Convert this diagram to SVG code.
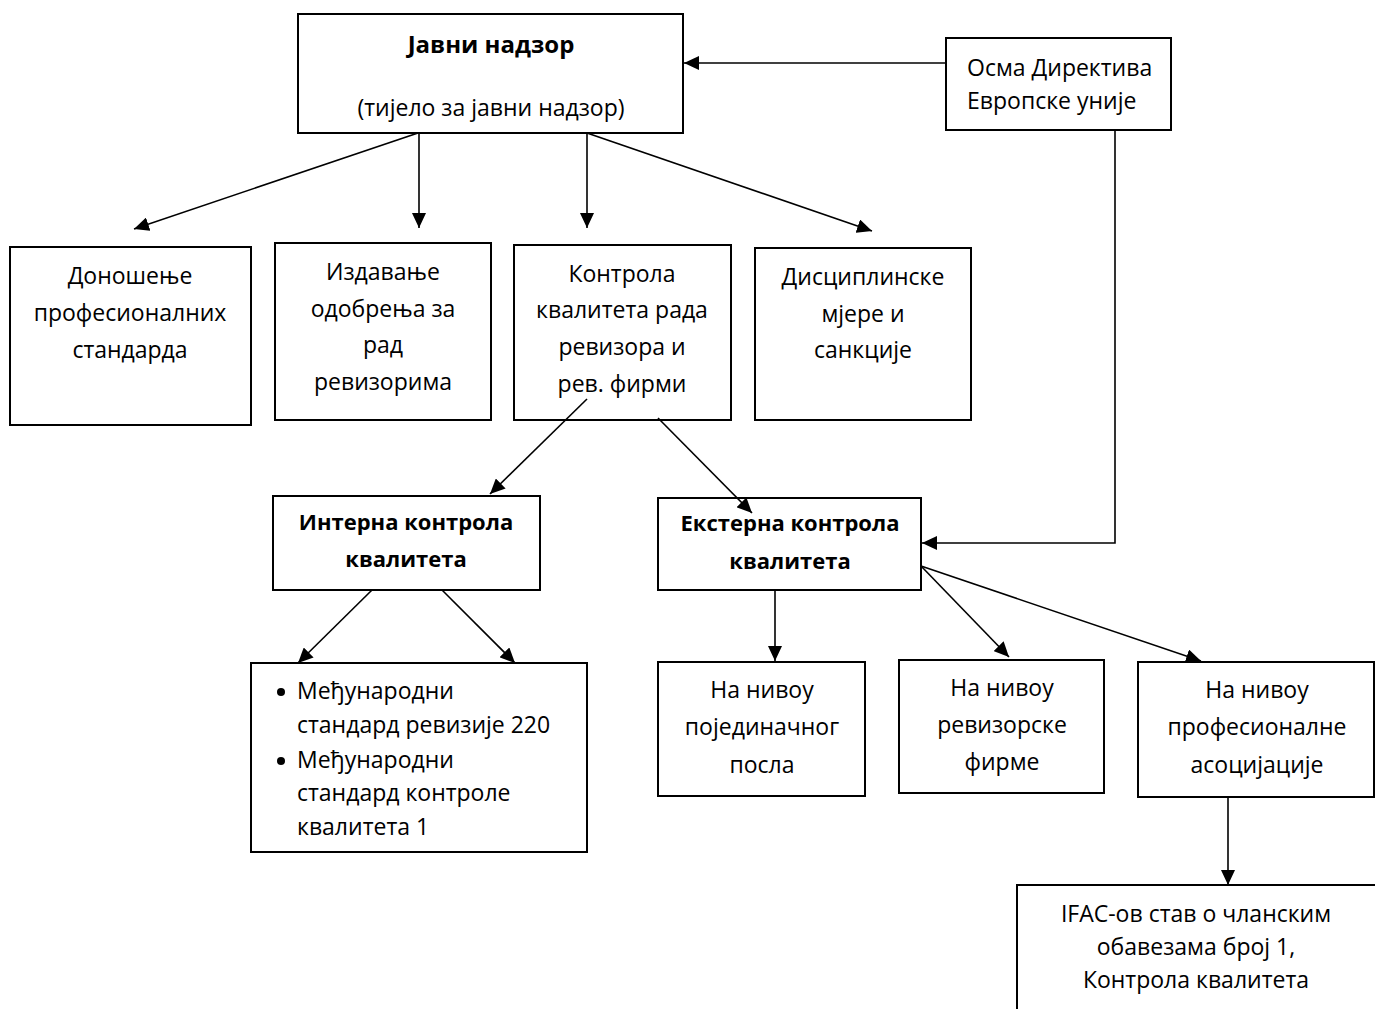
<svg xmlns="http://www.w3.org/2000/svg" width="1375" height="1009" viewBox="0 0 1375 1009">
<defs>
<marker id="ah" markerUnits="userSpaceOnUse" markerWidth="16" markerHeight="14" refX="15" refY="7" orient="auto">
<path d="M0,0 L15,7 L0,14 Z" fill="#000"/>
</marker>
<style>
.box{fill:#fff;stroke:#000;stroke-width:2}
.t{font-family:"Open Sans","Noto Sans","DejaVu Sans",sans-serif;font-size:23px;fill:#000}
.c{text-anchor:middle}
.b{font-weight:bold;font-size:22px}
.bt{font-weight:bold;font-size:24px}
.ln{stroke:#000;stroke-width:1.6;fill:none}
.ar{marker-end:url(#ah)}
</style>
</defs>
<rect width="1375" height="1009" fill="#fff"/>
<g id="javni-nadzor">
<rect class="box" x="298" y="14" width="385" height="119"/>
<text class="t c bt" x="491" y="53">Јавни надзор</text>
<text class="t c" x="491" y="116">(тијело за јавни надзор)</text>
</g>
<g id="osma-direktiva">
<rect class="box" x="946" y="38" width="225" height="92"/>
<text class="t" x="967" y="76">Осма Директива</text>
<text class="t" x="967" y="109">Европске уније</text>
</g>
<g id="donosenje">
<rect class="box" x="10" y="247" width="241" height="178"/>
<text class="t c" x="130" y="284">Доношење</text>
<text class="t c" x="130" y="321">професионалних</text>
<text class="t c" x="130" y="358">стандарда</text>
</g>
<g id="izdavanje">
<rect class="box" x="275" y="243" width="216" height="177"/>
<text class="t c" x="383" y="280">Издавање</text>
<text class="t c" x="383" y="317">одобрења за</text>
<text class="t c" x="383" y="353">рад</text>
<text class="t c" x="383" y="390">ревизорима</text>
</g>
<g id="kontrola">
<rect class="box" x="514" y="245" width="217" height="175"/>
<text class="t c" x="622" y="282">Контрола</text>
<text class="t c" x="622" y="318">квалитета рада</text>
<text class="t c" x="622" y="355">ревизора и</text>
<text class="t c" x="622" y="392">рев. фирми</text>
</g>
<g id="disciplinske">
<rect class="box" x="755" y="248" width="216" height="172"/>
<text class="t c" x="863" y="285">Дисциплинске</text>
<text class="t c" x="863" y="322">мјере и</text>
<text class="t c" x="863" y="358">санкције</text>
</g>
<g id="interna">
<rect class="box" x="273" y="496" width="267" height="94"/>
<text class="t c b" x="406" y="530">Интерна контрола</text>
<text class="t c b" x="406" y="567">квалитета</text>
</g>
<g id="eksterna">
<rect class="box" x="658" y="498" width="263" height="92"/>
<text class="t c b" x="790" y="531">Екстерна контрола</text>
<text class="t c b" x="790" y="569">квалитета</text>
</g>
<g id="standardi">
<rect class="box" x="251" y="663" width="336" height="189"/>
<circle cx="281" cy="692" r="4"/>
<text class="t" x="297" y="699">Међународни</text>
<text class="t" x="297" y="733">стандард ревизије 220</text>
<circle cx="281" cy="761" r="4"/>
<text class="t" x="297" y="768">Међународни</text>
<text class="t" x="297" y="801">стандард контроле</text>
<text class="t" x="297" y="835">квалитета 1</text>
</g>
<g id="pojedinacnog">
<rect class="box" x="658" y="662" width="207" height="134"/>
<text class="t c" x="762" y="698">На нивоу</text>
<text class="t c" x="762" y="735">појединачног</text>
<text class="t c" x="762" y="773">посла</text>
</g>
<g id="revizorske">
<rect class="box" x="899" y="660" width="205" height="133"/>
<text class="t c" x="1002" y="696">На нивоу</text>
<text class="t c" x="1002" y="733">ревизорске</text>
<text class="t c" x="1002" y="770">фирме</text>
</g>
<g id="profesionalne">
<rect class="box" x="1138" y="662" width="236" height="135"/>
<text class="t c" x="1257" y="698">На нивоу</text>
<text class="t c" x="1257" y="735">професионалне</text>
<text class="t c" x="1257" y="773">асоцијације</text>
</g>
<g id="ifac">
<rect class="box" x="1017" y="885" width="400" height="200"/>
<text class="t c" x="1196" y="922">IFAC-ов став о чланским</text>
<text class="t c" x="1196" y="955">обавезама број 1,</text>
<text class="t c" x="1196" y="988">Контрола квалитета</text>
</g>
<g id="connectors">
<line class="ln ar" x1="946" y1="63" x2="684" y2="63"/>
<line class="ln ar" x1="418" y1="133" x2="134" y2="229"/>
<line class="ln ar" x1="419" y1="133" x2="419" y2="228"/>
<line class="ln ar" x1="587" y1="133" x2="587" y2="228"/>
<line class="ln ar" x1="587" y1="133" x2="872" y2="231"/>
<line class="ln ar" x1="587" y1="399" x2="490" y2="494"/>
<line class="ln ar" x1="658" y1="418" x2="752" y2="513"/>
<polyline class="ln ar" points="1115,130 1115,543 922,543"/>
<line class="ln ar" x1="372" y1="590" x2="298" y2="663"/>
<line class="ln ar" x1="442" y1="590" x2="515" y2="663"/>
<line class="ln ar" x1="775" y1="590" x2="775" y2="661"/>
<line class="ln ar" x1="921" y1="566" x2="1009" y2="657"/>
<line class="ln ar" x1="921" y1="566" x2="1201" y2="661"/>
<line class="ln ar" x1="1228" y1="797" x2="1228" y2="885"/>
</g>
</svg>
